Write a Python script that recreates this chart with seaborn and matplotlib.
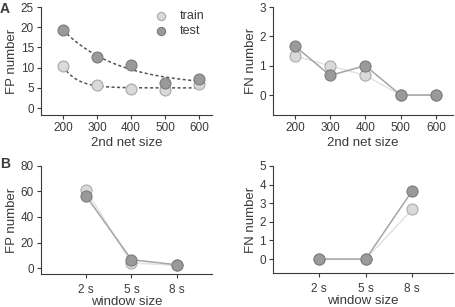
import numpy as np
import pandas as pd
import matplotlib
matplotlib.use("Agg")
import matplotlib.pyplot as plt
import seaborn as sns

# --- datos ---
net_size = [200, 300, 400, 500, 600]
fp_train_net = [10.3, 5.6, 4.7, 4.4, 5.9]
fp_test_net = [19.3, 12.7, 10.6, 6.3, 7.3]
fn_train_net = [1.33, 1.0, 0.67, 0.0, 0.0]
fn_test_net = [1.67, 0.67, 1.0, 0.0, 0.0]

window = ["2 s", "5 s", "8 s"]
fp_train_win = [61.0, 4.0, 2.0]
fp_test_win = [56.5, 6.5, 2.5]
fn_train_win = [0.0, 0.0, 2.67]
fn_test_win = [0.0, 0.0, 3.67]

c_train = "#d9d9d9"
c_test = "#9a9a9a"
e_train = "#a8a8a8"
e_test = "#7a7a7a"
txt = "#3a3a3a"

sns.set_style("ticks")
plt.rcParams["font.family"] = ["Liberation Sans", "DejaVu Sans"]
plt.rcParams["axes.edgecolor"] = txt
plt.rcParams["xtick.color"] = txt
plt.rcParams["ytick.color"] = txt
plt.rcParams["axes.labelcolor"] = txt
plt.rcParams["text.color"] = txt


def exp_fit(x, y):
    # ajuste y = a*exp(-b*(x-x0)) + c, busqueda en b y minimos cuadrados en a, c
    x = np.asarray(x, float)
    y = np.asarray(y, float)
    best = None
    for b in np.linspace(0.0005, 0.05, 400):
        A = np.column_stack([np.exp(-b * (x - x[0])), np.ones_like(x)])
        coef, *_ = np.linalg.lstsq(A, y, rcond=None)
        err = np.sum((A @ coef - y) ** 2)
        if best is None or err < best[0]:
            best = (err, b, coef)
    _, b, (a, c) = best
    xs = np.linspace(x[0], x[-1], 100)
    return xs, a * np.exp(-b * (xs - x[0])) + c


fig = plt.figure(figsize=(4.56, 3.07), dpi=100)
axA1 = fig.add_axes([0.0899, 0.6254, 0.375, 0.3516])
axA2 = fig.add_axes([0.5987, 0.6254, 0.3943, 0.3516])
axB1 = fig.add_axes([0.0899, 0.1075, 0.375, 0.3518])
axB2 = fig.add_axes([0.5987, 0.1107, 0.3943, 0.3486])

mk = dict(s=62, linewidth=0.8, zorder=3)

# A izquierda: FP vs tamaño de red con ajuste
for yv, fc, ec, lab in [(fp_train_net, c_train, e_train, "train"),
                        (fp_test_net, c_test, e_test, "test")]:
    xs, ys = exp_fit(net_size, yv)
    sns.lineplot(x=xs, y=ys, ax=axA1, color="#555555", linestyle=(0, (2, 1.6)),
                 linewidth=1.1, zorder=2)
    sns.scatterplot(x=net_size, y=yv, ax=axA1, color=fc, edgecolor=ec, label=lab, **mk)
axA1.set_xlim(135, 638)
axA1.set_ylim(-1.7, 25)
axA1.set_xticks(net_size)
axA1.set_yticks([0, 5, 10, 15, 20, 25])
axA1.set_xlabel("2nd net size", fontsize=9.5, labelpad=2)
axA1.set_ylabel("FP number", fontsize=9.5, labelpad=2)
leg = axA1.legend(loc="upper right", frameon=False, fontsize=9, handletextpad=0.5,
                  borderaxespad=0.1, labelspacing=0.25, markerscale=0.75,
                  bbox_to_anchor=(0.99, 1.03))

# A derecha: FN vs tamaño de red
sns.lineplot(x=net_size, y=fn_train_net, ax=axA2, color="#e3e3e3", linewidth=1.1,
             marker="o", markersize=8, markerfacecolor=c_train, markeredgecolor=e_train)
sns.lineplot(x=net_size, y=fn_test_net, ax=axA2, color="#a5a5a5", linewidth=1.1,
             marker="o", markersize=8, markerfacecolor=c_test, markeredgecolor=e_test)
axA2.set_xlim(138, 648)
axA2.set_ylim(-0.68, 3)
axA2.set_xticks(net_size)
axA2.set_yticks([0, 1, 2, 3])
axA2.set_xlabel("2nd net size", fontsize=9.5, labelpad=2)
axA2.set_ylabel("FN number", fontsize=9.5, labelpad=2)

# B izquierda: FP vs ventana
xw = np.arange(len(window))
sns.lineplot(x=xw, y=fp_train_win, ax=axB1, color="#e3e3e3", linewidth=1.1,
             marker="o", markersize=8, markerfacecolor=c_train, markeredgecolor=e_train)
sns.lineplot(x=xw, y=fp_test_win, ax=axB1, color="#a5a5a5", linewidth=1.1,
             marker="o", markersize=8, markerfacecolor=c_test, markeredgecolor=e_test)
axB1.set_xlim(-0.99, 2.77)
axB1.set_ylim(-4.7, 80)
axB1.set_xticks(xw)
axB1.set_xticklabels(window)
axB1.set_yticks([0, 20, 40, 60, 80])
axB1.set_xlabel("window size", fontsize=9.5, labelpad=0)
axB1.set_ylabel("FP number", fontsize=9.5, labelpad=2)

# B derecha: FN vs ventana
sns.lineplot(x=xw, y=fn_train_win, ax=axB2, color="#e3e3e3", linewidth=1.1,
             marker="o", markersize=8, markerfacecolor=c_train, markeredgecolor=e_train)
sns.lineplot(x=xw, y=fn_test_win, ax=axB2, color="#a5a5a5", linewidth=1.1,
             marker="o", markersize=8, markerfacecolor=c_test, markeredgecolor=e_test)
axB2.set_xlim(-0.99, 2.87)
axB2.set_ylim(-0.75, 5)
axB2.set_xticks(xw)
axB2.set_xticklabels(window)
axB2.set_yticks([0, 1, 2, 3, 4, 5])
axB2.set_xlabel("window size", fontsize=9.5, labelpad=0)
axB2.set_ylabel("FN number", fontsize=9.5, labelpad=2)

for ax in [axA1, axA2, axB1, axB2]:
    sns.despine(ax=ax)
    ax.tick_params(labelsize=8.5, length=3, width=0.8, pad=2)
    for s in ["left", "bottom"]:
        ax.spines[s].set_linewidth(0.8)
for ax in [axB1, axB2]:
    ax.tick_params(axis="x", pad=4)

fig.text(0.0, 0.995, "A", fontsize=10, fontweight="bold", va="top", ha="left")
fig.text(0.0, 0.487, "B", fontsize=10, fontweight="bold", va="top", ha="left")

fig.savefig("out.png", dpi=100)
